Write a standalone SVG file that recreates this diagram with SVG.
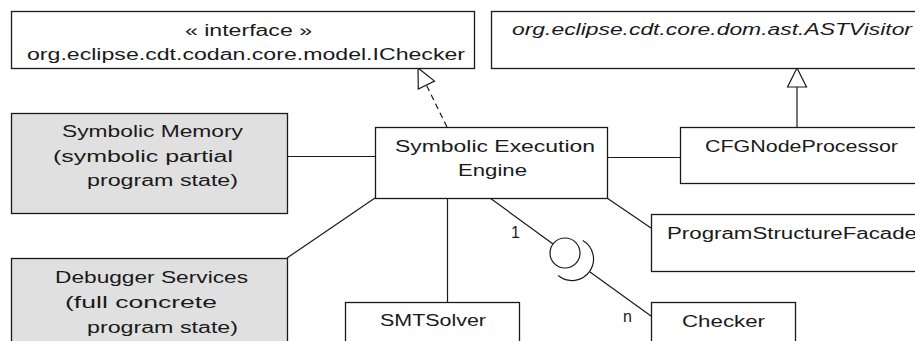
<svg xmlns="http://www.w3.org/2000/svg" width="915" height="341" viewBox="0 0 915 341">
<style>
  .box { fill: #ffffff; stroke: #1a1a1a; stroke-width: 1.3; }
  .gray { fill: #e0e0e0; stroke: #1a1a1a; stroke-width: 1.3; }
  .t { font-family: "Liberation Sans", Arial, sans-serif; font-size: 16px; fill: #1a1a1a; }
  .it { font-style: italic; }
  .ln { fill: none; stroke: #1a1a1a; stroke-width: 1.2; }
  .dash { stroke-dasharray: 6 4; }
  .head { fill: #ffffff; stroke: #1a1a1a; stroke-width: 1.2; stroke-linejoin: miter; }
</style>
<rect width="915" height="341" fill="#ffffff"/>

<g id="connectors">
  <line class="ln" x1="287" y1="156.5" x2="375" y2="156.5"/>
  <line class="ln" x1="287" y1="258" x2="375" y2="198"/>
  <line class="ln" x1="447.5" y1="198" x2="447.5" y2="302"/>
  <line class="ln" x1="607" y1="157.5" x2="680" y2="157.5"/>
  <line class="ln" x1="607" y1="198" x2="651" y2="228"/>
  <line class="ln" x1="490" y1="198" x2="553" y2="244"/>
  <line class="ln" x1="590" y1="272" x2="651" y2="316"/>
  <circle class="ln" cx="565" cy="253" r="15"/>
  <path class="ln" d="M582.75,240.4 A21.5,21.5 0 1 1 558.2,275.5"/>
  <line class="ln dash" x1="447" y1="127" x2="426.4" y2="85.1"/>
  <polygon class="head" points="418,68 434.5,81.1 418.3,89.1"/>
  <line class="ln" x1="797" y1="127" x2="797" y2="87"/>
  <polygon class="head" points="797,68 806.5,87 787.5,87"/>
  <text class="t" x="511" y="238">1</text>
  <text class="t" x="623" y="322">n</text>
</g>

<g id="ichecker">
  <rect class="box" x="11.5" y="11.5" width="463" height="57"/>
  <text class="t" x="185" y="36" textLength="127" lengthAdjust="spacingAndGlyphs">« interface »</text>
  <text class="t" x="27" y="60" textLength="438" lengthAdjust="spacingAndGlyphs">org.eclipse.cdt.codan.core.model.IChecker</text>
</g>

<g id="astvisitor">
  <rect class="box" x="491.5" y="11.5" width="440" height="57"/>
  <text class="t it" x="512" y="35" textLength="400" lengthAdjust="spacingAndGlyphs">org.eclipse.cdt.core.dom.ast.ASTVisitor</text>
</g>

<g id="symbolic-memory">
  <rect class="gray" x="11.5" y="113.5" width="276" height="100"/>
  <text class="t" x="62" y="137" textLength="181" lengthAdjust="spacingAndGlyphs">Symbolic Memory</text>
  <text class="t" x="53" y="162" textLength="180" lengthAdjust="spacingAndGlyphs">(symbolic partial</text>
  <text class="t" x="87" y="186" textLength="151" lengthAdjust="spacingAndGlyphs">program state)</text>
</g>

<g id="engine">
  <rect class="box" x="375.5" y="127.5" width="232" height="71"/>
  <text class="t" x="395" y="152" textLength="200" lengthAdjust="spacingAndGlyphs">Symbolic Execution</text>
  <text class="t" x="458" y="176" textLength="69" lengthAdjust="spacingAndGlyphs">Engine</text>
</g>

<g id="cfgnodeprocessor">
  <rect class="box" x="680.5" y="127.5" width="250" height="56"/>
  <text class="t" x="705" y="152" textLength="193" lengthAdjust="spacingAndGlyphs">CFGNodeProcessor</text>
</g>

<g id="programstructurefacade">
  <rect class="box" x="651.5" y="214.5" width="280" height="57"/>
  <text class="t" x="667" y="239" textLength="250" lengthAdjust="spacingAndGlyphs">ProgramStructureFacade</text>
</g>

<g id="debugger-services">
  <rect class="gray" x="11.5" y="258.5" width="276" height="100"/>
  <text class="t" x="55" y="283" textLength="193" lengthAdjust="spacingAndGlyphs">Debugger Services</text>
  <text class="t" x="65" y="308" textLength="152" lengthAdjust="spacingAndGlyphs">(full concrete</text>
  <text class="t" x="87" y="333" textLength="151" lengthAdjust="spacingAndGlyphs">program state)</text>
</g>

<g id="smtsolver">
  <rect class="box" x="345.5" y="302.5" width="174" height="60"/>
  <text class="t" x="380" y="326" textLength="106" lengthAdjust="spacingAndGlyphs">SMTSolver</text>
</g>

<g id="checker">
  <rect class="box" x="651.5" y="302.5" width="144" height="60"/>
  <text class="t" x="682" y="327" textLength="83" lengthAdjust="spacingAndGlyphs">Checker</text>
</g>
</svg>
